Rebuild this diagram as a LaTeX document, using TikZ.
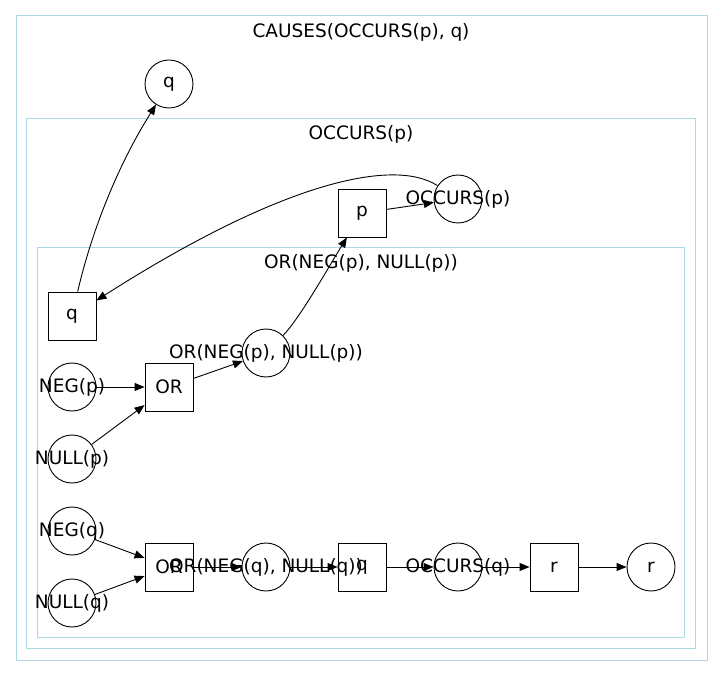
\documentclass[tikz,border=0pt]{standalone}
\usepackage{fontspec}
\setmainfont{DejaVu Sans}
\usetikzlibrary{arrows.meta}
\definecolor{clusterblue}{HTML}{ADD8E6}
\begin{document}
\begin{tikzpicture}[x=1pt,y=-1pt,line width=0.9pt]
\tikzstyle{every node}=[font=\fontsize{18.5}{22}\selectfont]
\tikzstyle{vertex}=[draw, circle, inner sep=0pt, minimum size=48pt]
\tikzstyle{block}=[draw, rectangle, inner sep=0pt, minimum size=48pt]
\tikzstyle{cluster}=[draw=clusterblue, line width=1pt]
\tikzstyle{arr}=[-{Triangle[length=10pt,width=8pt]}]

\useasboundingbox (0,0) rectangle (723,676);

% clusters
\draw[cluster] (16,16) rectangle (707,660);
\draw[cluster] (26,119) rectangle (695,648);
\draw[cluster] (37,248) rectangle (684,637);
\node (tcauses) at (361,32) {CAUSES(OCCURS(p), q)};
\node (toccurs) at (361,134) {OCCURS(p)};
\node (tor)     at (361,263) {OR(NEG(p), NULL(p))};

% nodes
\node[vertex] (nq)  at (169, 84) {q};
\node[block]  (np)  at (362,213) {p};
\node[vertex] (no)  at (458,199) [label={center:OCCURS(p)}] {};
\node[block]  (nqb) at ( 72,316) {q};
\node[vertex] (nop) at (266,353) [label={center:OR(NEG(p), NULL(p))}] {};
\node[vertex] (nnp) at ( 72,387) [label={center:NEG(p)}] {};
\node[block]  (nbp) at (169,387) {OR};
\node[vertex] (nup) at ( 72,459) [label={center:NULL(p)}] {};
\node[vertex] (nnq) at ( 72,531) [label={center:NEG(q)}] {};
\node[vertex] (nuq) at ( 72,603) [label={center:NULL(q)}] {};
\node[block]  (nbq) at (169,567) {OR};
\node[vertex] (noq) at (266,567) [label={center:OR(NEG(q), NULL(q))}] {};
\node[block]  (nqq) at (362,567) {q};
\node[vertex] (nc)  at (458,567) [label={center:OCCURS(q)}] {};
\node[block]  (nr)  at (554,567) {r};
\node[vertex] (nrr) at (651,567) {r};

% edges
\draw[arr] (nqb) .. controls (92,230) and (118,165) .. (nq);
\draw[arr] (np) -- (no);
\draw[arr] (no) .. controls (395,158) and (285,180) .. (nqb);
\draw[arr] (nop) .. controls (300,318) and (328,268) .. (np);
\draw[arr] (nnp) -- (nbp);
\draw[arr] (nup) -- (nbp);
\draw[arr] (nbp) -- (nop);
\draw[arr] (nnq) -- (nbq);
\draw[arr] (nuq) -- (nbq);
\draw[arr] (nbq) -- (noq);
\draw[arr] (noq) -- (nqq);
\draw[arr] (nqq) -- (nc);
\draw[arr] (nc) -- (nr);
\draw[arr] (nr) -- (nrr);
\end{tikzpicture}
\end{document}
